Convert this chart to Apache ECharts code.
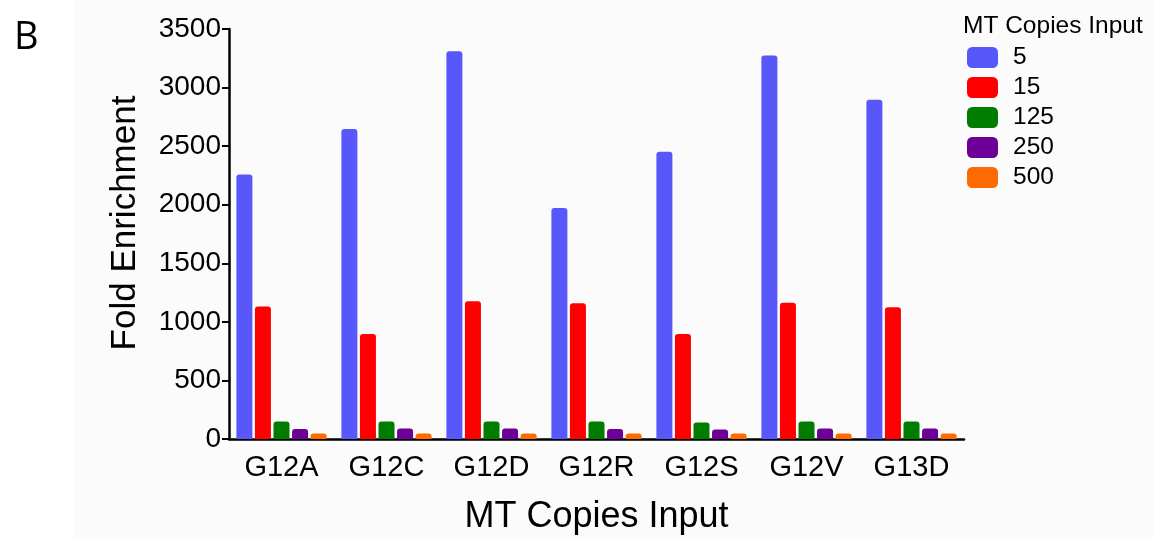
<!DOCTYPE html>
<html>
<head>
<meta charset="utf-8">
<script src="https://cdn.jsdelivr.net/npm/echarts@6/dist/echarts.min.js"></script>
<style>html,body{margin:0;padding:0;background:#fff;}#c{width:1153px;height:540px;}</style>
</head>
<body>
<div id="c"></div>
<script>
const categories = ['G12A', 'G12C', 'G12D', 'G12R', 'G12S', 'G12V', 'G13D'];
const seriesNames = ['5', '15', '125', '250', '500'];
const copies5   = [2258, 2646, 3311, 1973, 2453, 3274, 2895];
const copies15  = [1132, 897, 1175, 1158, 897, 1163, 1124];
const copies125 = [150, 150, 150, 150, 140, 150, 150];
const copies250 = [85, 90, 90, 85, 82, 90, 90];
const copies500 = [48, 48, 48, 48, 48, 48, 48];
const yTicks = [0, 500, 1000, 1500, 2000, 2500, 3000, 3500];
const colors = ['#5757fa', '#ff0000', '#007d00', '#6d0096', '#ff6a00'];
const allData = [copies5, copies15, copies125, copies250, copies500];

const font = '"Liberation Sans", Arial, sans-serif';
const chart = echarts.init(document.getElementById('c'));
chart.setOption({
  animation: false,
  backgroundColor: '#ffffff',
  graphic: [
    { type: 'rect', left: 73, top: 0, shape: { width: 1080, height: 540 }, style: { fill: '#fbfbfb' }, z: -10, silent: true },
    { type: 'text', left: 14, top: 19, style: { text: 'B', font: '38px "Open Sans", "Liberation Sans", sans-serif', fill: '#000' } },
    { type: 'text', x: 125, y: 223, rotation: Math.PI / 2,
      style: { text: 'Fold Enrichment', font: '35px "Liberation Sans", Arial, sans-serif', fill: '#000', textAlign: 'center', textVerticalAlign: 'middle' } }
  ],
  title: {
    text: 'MT Copies Input',
    left: 958, top: 9,
    textStyle: { fontFamily: font, fontSize: 24.5, fontWeight: 'normal', color: '#000' }
  },
  legend: {
    orient: 'vertical',
    left: 962, top: 40,
    itemWidth: 31, itemHeight: 21, itemGap: 5,
    icon: 'roundRect',
    data: seriesNames,
    textStyle: { fontFamily: font, fontSize: 24.5, color: '#000', padding: [0, 0, 0, 10] }
  },
  grid: { left: 229, top: 29, width: 735, height: 413, containLabel: false },
  xAxis: {
    type: 'category',
    data: categories,
    name: 'MT Copies Input',
    nameLocation: 'middle',
    nameGap: 60,
    nameTextStyle: { fontFamily: font, fontSize: 36, color: '#000' },
    axisLine: { lineStyle: { color: '#000', width: 2.5 } },
    axisTick: { alignWithLabel: true, length: 6, lineStyle: { color: '#000', width: 2 } },
    axisLabel: { fontFamily: font, fontSize: 29, color: '#000', margin: 14 }
  },
  yAxis: {
    type: 'value',
    min: yTicks[0], max: yTicks[yTicks.length - 1], interval: 500,
    splitLine: { show: false },
    axisLine: { show: true, lineStyle: { color: '#000', width: 2.5 } },
    axisTick: { show: true, length: 7, lineStyle: { color: '#000', width: 2 } },
    axisLabel: { fontFamily: font, fontSize: 28, color: '#000', margin: 8, formatter: v => String(v) }
  },
  series: seriesNames.map((n, i) => ({
    name: n,
    type: 'bar',
    data: allData[i],
    barWidth: 16,
    barGap: '16%',
    itemStyle: { color: colors[i], borderRadius: [3, 3, 0, 0] }
  }))
});
</script>
</body>
</html>
